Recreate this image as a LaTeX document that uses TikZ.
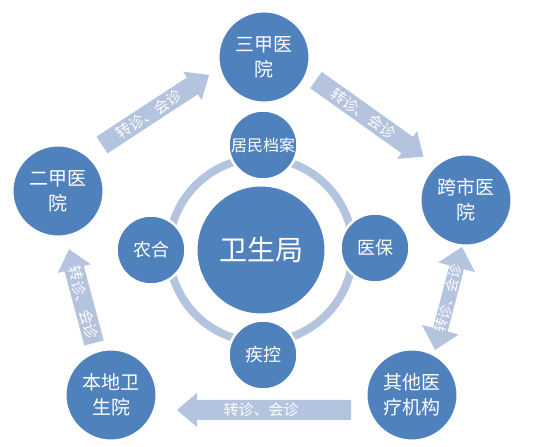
\documentclass[tikz,border=0pt]{standalone}
\usepackage{fontspec}
\setmainfont{Noto Sans CJK SC}
\definecolor{cblue}{HTML}{4F81BD}
\definecolor{cpale}{HTML}{B4C4DF}
\newcommand{\blockarr}[6]{% #1 name, #2 tail point, #3 angle, #4 length, #5 text angle, #6 text position from tail
  \begin{scope}[shift={#2}, rotate=#3]
    \fill[cpale] (0,-10) -- ({#4-20},-10) -- ({#4-20},-17) -- (#4,0) -- ({#4-20},17) -- ({#4-20},10) -- (0,10) -- cycle;
    \node[arrowtext, rotate=#5] (#1) at (#6,0) {转诊、会诊};
  \end{scope}}
\begin{document}
\begin{tikzpicture}[x=1pt,y=1pt,
  bigc/.style={circle, fill=cblue, draw=white, line width=1pt, minimum size=90pt, inner sep=0pt,
    text=white, align=center, font=\fontsize{19}{25}\selectfont},
  satc/.style={circle, fill=cblue, draw=white, line width=2.5pt, minimum size=69pt, inner sep=0pt,
    text=white, font=\fontsize{18}{22}\selectfont},
  hubc/.style={circle, fill=cblue, draw=white, line width=1pt, minimum size=128pt, inner sep=0pt,
    text=white, font=\fontsize{28}{32}\selectfont},
  arrowtext/.style={text=white, inner sep=0pt, font=\fontsize{15}{15}\selectfont},
  ringline/.style={draw=cpale, line width=8pt},
]
\useasboundingbox (0,0) rectangle (560,447);

% block arrows
\blockarr{a1}{(102,302)}{33.2}{128}{33.2}{56}
\blockarr{a2}{(316,367)}{-35.5}{132}{-35.5}{58}
\blockarr{a4}{(351,37)}{180}{174}{0}{90}
\blockarr{a5}{(94,104)}{104.9}{97}{-75.1}{42}
\begin{scope}[shift={(435,97)}, rotate=75.3]
  \fill[cpale] (0,0) -- (21,19) -- (21,7.5) -- (85.5,7.5) -- (85.5,19) -- (106.5,0)
    -- (85.5,-19) -- (85.5,-7.5) -- (21,-7.5) -- (21,-19) -- cycle;
  \node[arrowtext, rotate=75.3, font=\fontsize{14}{14}\selectfont] (a3) at (53,0) {转诊、会诊};
\end{scope}

% outer hospitals
\node[bigc] (sanjia) at (264,390) {三甲医\\院};
\node[bigc] (kuashi) at (466,247) {跨市医\\院};
\node[bigc] (qita) at (412,52) {其他医\\疗机构};
\node[bigc] (bendi) at (111,52) {本地卫\\生院};
\node[bigc] (erjia) at (58,256) {二甲医\\院};

% ring and hub
\node[hubc] (hub) at (261,197) {卫生局};
\draw[ringline] (hub.center) circle[radius=92];
\node[satc, font=\fontsize{16}{20}\selectfont] (jumin) at (263,302) {居民档案};
\node[satc] (yibao) at (375,199) {医保};
\node[satc] (jikong) at (263,92) {疾控};
\node[satc] (nonghe) at (151,197) {农合};
\end{tikzpicture}
\end{document}
